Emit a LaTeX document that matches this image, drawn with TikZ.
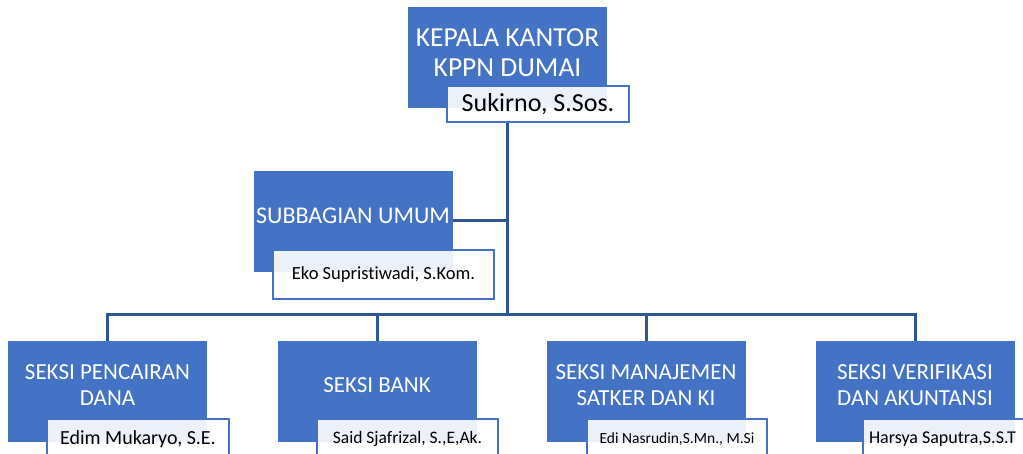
\documentclass[tikz,border=0pt]{standalone}
\usepackage{fontspec}
\setmainfont{Carlito}[Ligatures=NoCommon]
\usetikzlibrary{positioning}
\definecolor{kotak}{HTML}{4472C4}
\definecolor{garis}{HTML}{2F5597}

\begin{document}
\begin{tikzpicture}[x=1pt,y=-1pt,
  unit/.style={fill=kotak,minimum width=199pt,minimum height=101pt,inner sep=0pt},
  judul/.style={text=white,align=center,inner sep=0pt},
  nama/.style={draw=kotak,line width=2pt,fill=white,fill opacity=.9,text opacity=1,inner sep=0pt},
  link/.style={draw=garis,line width=3pt}]
\useasboundingbox (0,0) rectangle (1023,454);
\clip (0,0) rectangle (1023,454);
% kepala kantor
\node[unit] (kepala) at (507.5,57.5) {};
\node[judul,font=\fontsize{27.5}{30}\selectfont] (kepalajudul) at ([yshift=5pt]kepala.center) {KEPALA KANTOR\\KPPN DUMAI};
\node[nama,minimum width=182pt,minimum height=36pt,font=\fontsize{26}{30}\selectfont] (kepalanama) at (538,104) {Sukirno, S.Sos.};
% subbagian umum
\node[unit] (umum) at (353,221.5) {};
\node[judul,font=\fontsize{24}{28}\selectfont] (umumjudul) at ([yshift=6pt]umum.center) {SUBBAGIAN UMUM};
\node[nama,minimum width=221pt,minimum height=49pt,font=\fontsize{18.5}{22}\selectfont] (umumnama) at (383.5,274.5) {Eko Supristiwadi, S.Kom.};
% seksi
\node[unit] (cair) at (107.5,391.5) {};
\node[judul,font=\fontsize{23}{26}\selectfont] (cairjudul) at ([yshift=6pt]cair.center) {SEKSI PENCAIRAN\\DANA};
\node[nama,minimum width=182pt,minimum height=40pt,font=\fontsize{20}{24}\selectfont] (cairnama) at (138,439) {Edim Mukaryo, S.E.};
\node[unit] (bank) at (377,391.5) {};
\node[judul,font=\fontsize{23}{26}\selectfont] (bankjudul) at ([yshift=6pt]bank.center) {SEKSI BANK};
\node[nama,minimum width=181pt,minimum height=40pt,font=\fontsize{17.5}{21}\selectfont] (banknama) at (407.5,439) {Said Sjafrizal, S.,E,Ak.};
\node[unit] (mski) at (646,391.5) {};
\node[judul,font=\fontsize{23}{26}\selectfont] (mskijudul) at ([yshift=6pt]mski.center) {SEKSI MANAJEMEN\\SATKER DAN KI};
\node[nama,minimum width=180pt,minimum height=40pt,font=\fontsize{15.5}{19}\selectfont] (mskinama) at (677,439) {Edi Nasrudin,S.Mn., M.Si};
\node[unit] (vera) at (915,391.5) {};
\node[judul,font=\fontsize{23}{26}\selectfont] (verajudul) at ([yshift=6pt]vera.center) {SEKSI VERIFIKASI\\DAN AKUNTANSI};
\node[nama,minimum width=182pt,minimum height=40pt,text width=170pt,align=flush left,font=\fontsize{18}{22}\selectfont] (veranama) at (954,439) {Harsya Saputra,S.S.T};
% garis
\coordinate (hub) at (kepala.center |- kepalanama.south);
\coordinate (bus) at (507.5,315);
\draw[link] (hub) -- (bus);
\draw[link] (umum.east |- 0,221) -- (kepala |- 0,221);
\draw[link,line cap=rect] (cair |- bus) -- (vera |- bus);
\draw[link] (cair |- bus) -- (cair.north);
\draw[link] (bank |- bus) -- (bank.north);
\draw[link] (mski |- bus) -- (mski.north);
\draw[link] (vera |- bus) -- (vera.north);
\end{tikzpicture}
\end{document}
